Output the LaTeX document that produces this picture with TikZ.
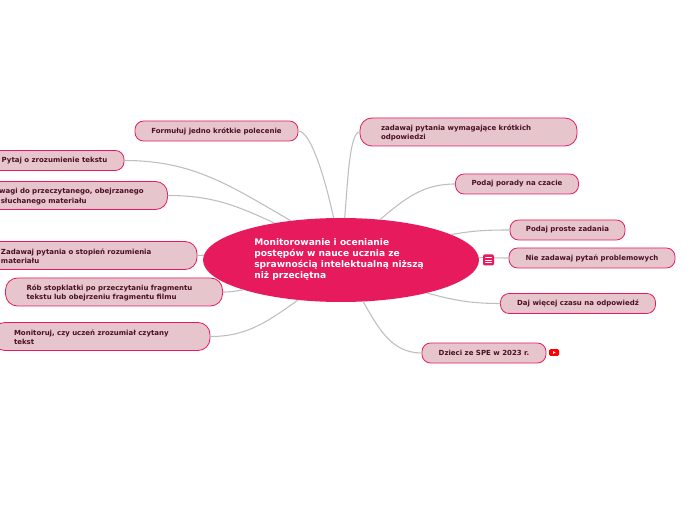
\documentclass[tikz,border=0pt]{standalone}
\usepackage{fontspec}
\setmainfont{DejaVu Sans}
\usetikzlibrary{shapes.geometric}
\definecolor{rootpink}{HTML}{E61A5D}
\definecolor{itemfill}{HTML}{E6C6CC}
\definecolor{itemtext}{HTML}{4A0F24}
\definecolor{linkgray}{HTML}{BEBEBE}
\tikzset{
	root/.style={ellipse, fill=rootpink, text=white, inner sep=0pt, align=left, minimum width=207pt, minimum height=63pt, font=\fontsize{6.8}{8.3}\selectfont\bfseries},
	item/.style={draw=rootpink, fill=itemfill, text=itemtext, line width=.6pt, inner sep=0pt, rounded corners=6.5pt, font=\fontsize{5.25}{7.1}\selectfont\bfseries},
	itemlong/.style={item, rounded corners=9pt, align=left, text width=131.25pt, inner xsep=15.75pt, minimum height=21pt, execute at begin node=\rule{0pt}{5.5pt}},
	link/.style={draw=linkgray, line width=.8pt},
	icon/.style={inner sep=0pt, rounded corners=1pt}
}
\begin{document}
\begin{tikzpicture}[x=.75pt, y=-.75pt, line join=round, line cap=round]
	\useasboundingbox (0,0) rectangle (696,520);
	\node[root] (root) at (341,260) {\hspace*{-3pt}\raisebox{-2.2pt}{\begin{tabular}{@{}l@{}}Monitorowanie i ocenianie\\postępów w nauce ucznia ze\\sprawnością intelektualną niższą\\niż przeciętna\end{tabular}}};
	% short items
	\foreach \n/\x/\y/\w/\t in {form/216.5/131/163/Formułuj jedno krótkie polecenie, pytaj/54.5/160.5/139/Pytaj o zrozumienie tekstu, porady/517/184/123/Podaj porady na czacie, proste/567.5/230/115/Podaj proste zadania, nie/592/258/166/Nie zadawaj pytań problemowych, daj/578/303.5/155/Daj więcej czasu na odpowiedź, dzieci/484/353/124/Dzieci ze SPE w 2023 r.}
	\node[item, minimum width=\w*.75pt, minimum height=15pt] (\n) at (\x,\y) {\t};
	% long items
	\foreach \n/\x/\y/\t in {zadawaj/468.5/132/{zadawaj pytania wymagające krótkich\\odpowiedzi}, uwagi/59/195.5/{\hspace*{17pt}uwagi do przeczytanego, obejrzanego\\\hspace*{22pt}słuchanego materiału}, stopien/88.5/255.5/{Zadawaj pytania o stopień rozumienia\\materiału}, rob/114/292/{Rób stopklatki po przeczytaniu fragmentu\\tekstu lub obejrzeniu fragmentu filmu}, mon/101.5/336.5/{Monitoruj, czy uczeń zrozumiał czytany\\tekst}}
	\node[itemlong] (\n) at (\x,\y) {\t};
	% connectors
	\foreach \n/\a/\o/\i/\l in {form/100/102/0/.35, pytaj/142/150/0/1, uwagi/151/155/0/1, stopien/178/180/0/1, rob/197/190/0/1, mon/223/215/0/1}
	\draw[link] (root.\a) to[out=\o, in=\i, in looseness=\l] (\n.east);
	\foreach \n/\a/\o/\i/\l in {zadawaj/85/85/180/.3, porady/46/40/180/1, proste/13/10/180/1, nie/1/0/180/1, daj/339/345/180/1, dzieci/298/300/180/1}
	\draw[link] (root.\a) to[out=\o, in=\i, in looseness=\l] (\n.west);
	% icons
	\node[icon, fill=rootpink, minimum width=8.25pt, minimum height=8.25pt] (note) at (488.5,260) {};
	\foreach \y in {257.5,260,262.5}
	\draw[white, line width=.5pt] (485.5,\y) -- (491.5,\y);
	\node[icon, fill=red, minimum width=7.5pt, minimum height=5pt] (video) at (554,352.5) {};
	\fill[white] (553,351) -- (553,354) -- (555.5,352.5) -- cycle;
\end{tikzpicture}
\end{document}
